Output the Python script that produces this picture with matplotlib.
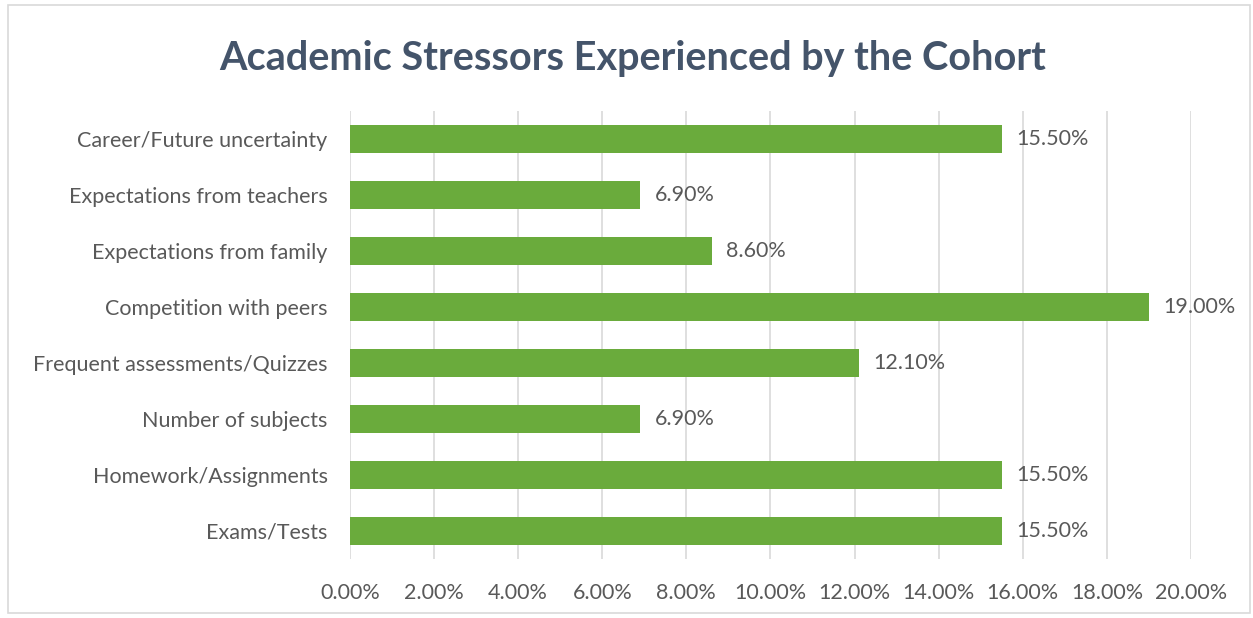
import matplotlib.pyplot as plt
from matplotlib.patches import Rectangle
from matplotlib.ticker import FuncFormatter, MultipleLocator

stressors = [
    "Exams/Tests",
    "Homework/Assignments",
    "Number of subjects",
    "Frequent assessments/Quizzes",
    "Competition with peers",
    "Expectations from family",
    "Expectations from teachers",
    "Career/Future uncertainty",
]
shares = [15.5, 15.5, 6.9, 12.1, 19.0, 8.6, 6.9, 15.5]

plt.rcParams['font.family'] = ['Lato', 'DejaVu Sans']

fig = plt.figure(figsize=(12.53, 6.18), dpi=100)
ax = fig.add_axes([0.2793, 0.0955, 0.6712, 0.7249])

ypos = range(len(stressors))
ax.barh(ypos, shares, height=0.5, color='#6aab3c', zorder=3)
for y, v in zip(ypos, shares):
    ax.text(v + 0.35, y, f"{v:.2f}%", va='center', ha='left',
            fontsize=15.5, color='#595959')

ax.set_xlim(0, 20)
ax.set_ylim(-0.5, len(stressors) - 0.5)
ax.set_yticks(list(ypos))
ax.set_yticklabels(stressors, fontsize=15.5, color='#595959')
ax.xaxis.set_major_locator(MultipleLocator(2))
ax.xaxis.set_major_formatter(FuncFormatter(lambda x, _: f"{x:.2f}%"))
ax.tick_params(axis='x', labelsize=15.5, labelcolor='#595959', length=0, pad=17)
ax.tick_params(axis='y', length=0, pad=16)
ax.grid(axis='x', color='#d9d9d9', linewidth=1.2, zorder=0)
for s in ax.spines.values():
    s.set_visible(False)

fig.text(0.505, 0.905, "Academic Stressors Experienced by the Cohort",
         ha='center', va='center', fontsize=28.5, fontweight='bold', color='#44546a')

fig.patches.append(Rectangle((0.006, 0.008), 0.992, 0.984, transform=fig.transFigure,
                             fill=False, edgecolor='#d9d9d9', linewidth=1.2))

fig.savefig("out.png", dpi=100)
